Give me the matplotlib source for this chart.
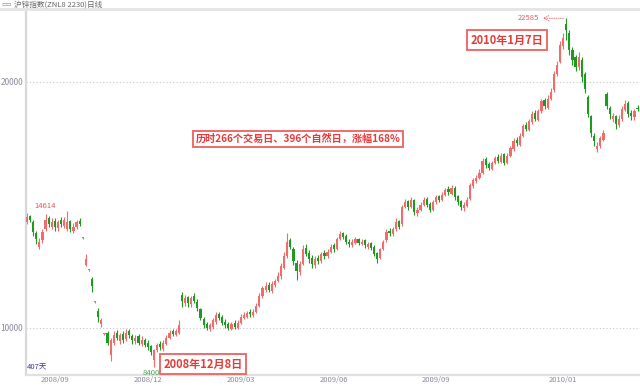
import numpy as np
import matplotlib
matplotlib.use('Agg')
import matplotlib.pyplot as plt
from matplotlib.lines import Line2D

plt.rcParams['font.family'] = ['Noto Sans CJK SC', 'DejaVu Sans']

# OHLC, one candle per two trading days (Aug 2008 .. Mar 2010)
opens = [14300, 14550, 14300, 13850, 13300, 13550, 14000, 14450, 14100, 14350,
         14050, 14400, 14150, 14000, 14350, 13950, 14100, 14350, 13650, 12550,
         12350, 12000, 11050, 10700, 10150, 9750, 9800, 8900, 9400, 9800,
         9450, 9750, 9550, 9850, 9650, 9450, 9650, 9350, 9500, 9400,
         9250, 8700, 9100, 9350, 9150, 9350, 9600, 9850, 9700, 9800,
         11350, 11000, 11250, 10950, 11300, 11050, 10750, 10350, 10150, 9950,
         10050, 10250, 10550, 10450, 10250, 10150, 9950, 10200, 10000, 10200,
         10400, 10450, 10650, 10500, 10650, 10900, 11300, 11550, 11750, 11500,
         11750, 11900, 12100, 12450, 12900, 13550, 13200, 12650, 12250, 12600,
         13250, 13050, 12850, 12550, 12850, 12700, 13050, 12900, 13100, 13350,
         13200, 13600, 13850, 13750, 13500, 13350, 13450, 13600, 13400, 13550,
         13300, 13450, 13300, 13050, 12850, 13200, 13550, 13950, 13800, 14000,
         14350, 14200, 14900, 15150, 14900, 15200, 14650, 14800, 15000, 15250,
         15050, 14800, 15100, 15350, 15200, 15400, 15650, 15450, 15700, 15350,
         15150, 14850, 14950, 15250, 15750, 15950, 16100, 16300, 16850, 16650,
         16450, 16700, 16950, 16750, 17050, 16700, 17000, 17250, 17650, 17450,
         17800, 18250, 18050, 18350, 18750, 18450, 18800, 19250, 18950, 19300,
         19650, 20300, 20800, 21450, 22350, 22000, 21300, 21000, 20600, 20900,
         20300, 19400, 18600, 17800, 17250, 17400, 17650, 19500, 18950, 18500,
         18600, 18250, 18500, 18850, 19150, 18750, 18550, 18950]
closes = [14500, 14400, 13900, 13600, 13500, 13900, 14400, 14200, 14300, 14100,
          14300, 14200, 14400, 14300, 14000, 14100, 14300, 14200, 13650, 12800,
          12350, 11700, 11050, 10450, 10300, 9750, 9400, 9500, 9700, 9600,
          9700, 9500, 9800, 9700, 9500, 9600, 9400, 9500, 9300, 9200,
          9000, 9100, 9300, 9200, 9400, 9600, 9800, 9750, 9850, 10100,
          11100, 11200, 11000, 11200, 11100, 10800, 10400, 10100, 10000, 10100,
          10300, 10500, 10400, 10200, 10100, 10000, 10150, 10050, 10200, 10450,
          10500, 10600, 10550, 10650, 10900, 11300, 11600, 11700, 11550, 11800,
          11900, 12100, 12500, 12900, 13500, 13300, 12700, 12300, 12600, 13200,
          13000, 12800, 12600, 12800, 12700, 13000, 12900, 13100, 13300, 13200,
          13600, 13800, 13700, 13500, 13400, 13500, 13600, 13450, 13500, 13350,
          13400, 13250, 13000, 12800, 13200, 13500, 13900, 13850, 14000, 14300,
          14100, 14900, 15100, 14900, 15200, 14700, 14800, 15000, 15200, 15000,
          14800, 15100, 15300, 15200, 15400, 15600, 15500, 15700, 15300, 15100,
          14900, 15000, 15200, 15800, 16000, 16100, 16300, 16800, 16600, 16500,
          16700, 16900, 16800, 17000, 16700, 17000, 17300, 17600, 17500, 17800,
          18200, 18100, 18400, 18700, 18500, 18800, 19200, 19000, 19300, 19600,
          20300, 20700, 21500, 21800, 22100, 21300, 20900, 20600, 21000, 20200,
          19700, 18700, 17900, 17600, 17400, 17700, 17900, 19000, 18700, 18600,
          18300, 18500, 18900, 19100, 18700, 18600, 18800, 18900]
highs = [14650, 14600, 14400, 13950, 13650, 14000, 14614, 14550, 14450, 14450,
         14400, 14500, 14500, 14750, 14400, 14250, 14400, 14450, 13700, 13000,
         12400, 12050, 11100, 10800, 10400, 9800, 9850, 9600, 9850, 9900,
         9800, 9850, 9950, 9950, 9750, 9700, 9750, 9650, 9600, 9500,
         9300, 9150, 9400, 9450, 9500, 9700, 9900, 9950, 9950, 10300,
         11450, 11350, 11300, 11300, 11400, 11150, 10800, 10450, 10250, 10200,
         10400, 10650, 10650, 10500, 10350, 10250, 10250, 10300, 10300, 10550,
         10650, 10700, 10750, 10750, 11000, 11400, 11700, 11850, 11850, 11900,
         12000, 12250, 12650, 13100, 13850, 13650, 13300, 12750, 12700, 13350,
         13400, 13150, 12950, 12900, 12950, 13100, 13150, 13200, 13400, 13450,
         13700, 13950, 13900, 13800, 13600, 13600, 13700, 13650, 13600, 13600,
         13500, 13500, 13350, 13100, 13250, 13550, 14000, 14050, 14100, 14450,
         14400, 15000, 15250, 15200, 15300, 15250, 14900, 15100, 15300, 15300,
         15100, 15200, 15400, 15400, 15500, 15700, 15750, 15800, 15750, 15400,
         15200, 15100, 15300, 15900, 16100, 16200, 16450, 16900, 16950, 16750,
         16800, 17000, 17050, 17100, 17100, 17100, 17400, 17700, 17750, 17900,
         18300, 18350, 18500, 18800, 18850, 18900, 19300, 19350, 19450, 19750,
         20450, 20850, 21650, 22000, 22585, 22100, 21400, 21100, 21200, 21000,
         20400, 19450, 18650, 17900, 17550, 17800, 18050, 19600, 19000, 18750,
         18650, 18650, 19000, 19250, 19200, 18850, 18900, 19050]
lows = [14200, 14300, 13750, 13400, 13200, 13450, 13950, 14100, 14000, 13950,
        13950, 14100, 14050, 13950, 13900, 13850, 14000, 14150, 13620, 12500,
        12320, 11450, 11020, 10250, 10050, 9720, 9300, 8650, 9300, 9500,
        9350, 9400, 9450, 9600, 9350, 9350, 9300, 9250, 9200, 9100,
        8900, 8400, 9000, 9100, 9050, 9300, 9550, 9650, 9650, 9750,
        10850, 10900, 10850, 10850, 11000, 10700, 10300, 10000, 9900, 9850,
        9950, 10150, 10300, 10100, 10000, 9900, 9900, 9950, 9950, 10150,
        10350, 10400, 10450, 10450, 10600, 10850, 11200, 11450, 11450, 11400,
        11650, 11850, 12000, 12400, 12850, 13200, 12550, 11950, 12150, 12550,
        12900, 12650, 12450, 12450, 12600, 12650, 12800, 12850, 13050, 13100,
        13150, 13550, 13600, 13400, 13300, 13300, 13400, 13350, 13350, 13250,
        13200, 13150, 12900, 12650, 12800, 13150, 13500, 13750, 13750, 13950,
        14000, 14150, 14850, 14800, 14850, 14600, 14550, 14750, 14950, 14900,
        14700, 14750, 15050, 15100, 15150, 15350, 15400, 15400, 15200, 15000,
        14800, 14750, 14900, 15200, 15700, 15900, 16050, 16250, 16500, 16400,
        16400, 16650, 16700, 16700, 16600, 16650, 16950, 17200, 17400, 17400,
        17750, 18000, 18000, 18300, 18400, 18400, 18750, 18900, 18900, 19250,
        19600, 20250, 20750, 21350, 21700, 21100, 20700, 20450, 20500, 20000,
        19550, 18550, 17750, 17400, 17150, 17300, 17600, 18900, 18500, 18350,
        18100, 18150, 18400, 18800, 18550, 18450, 18450, 18800]

tick_idx = [9, 39, 69, 99, 132, 173]
tick_labels = ['2008/09', '2008/12', '2009/03', '2009/06', '2009/09', '2010/01']

o = np.array(opens); c = np.array(closes)
h = np.array(highs); l = np.array(lows)
x = np.arange(len(o))
up = c >= o

RED = '#f26b6b'
GREEN = '#1e9a22'

fig = plt.figure(figsize=(6.4, 3.86), dpi=100)
ax = fig.add_axes([26/640, 11/386, 614/640, 366/386])

cols = np.where(up, RED, GREEN)
ax.vlines(x, l, h, colors=cols, linewidth=0.8, zorder=2)
body = np.maximum(np.abs(c - o), 40)
ax.bar(x, body, bottom=np.minimum(o, c), width=0.7, color=cols,
       linewidth=0, zorder=3)

ax.set_xlim(-0.3, 197.8)
ax.set_ylim(8080, 22960)

ax.set_yticks([10000, 20000])
ax.set_yticklabels(['10000', '20000'])
ax.yaxis.grid(True, linestyle=(0, (1, 2)), color='#c8c8c8', linewidth=0.8)
ax.set_xticks(tick_idx)
ax.set_xticklabels(tick_labels)
ax.tick_params(axis='y', length=0, labelsize=6, labelcolor='#8a8a9a', pad=2)
ax.tick_params(axis='x', length=0, labelsize=5.5, labelcolor='#8a8a9a', pad=0.5)

for s in ['top', 'right']:
    ax.spines[s].set_visible(False)
ax.spines['left'].set_color('#d8d8d8')
ax.spines['left'].set_linewidth(1.6)
ax.spines['bottom'].set_color('#e0e0e0')
ax.spines['bottom'].set_linewidth(1.6)

# top bar line
fig.add_artist(Line2D([0, 1], [1 - 9/386, 1 - 9/386], color='#e4e4e4', lw=2))
fig.text(14/640, 1 - 5/386, '沪锌指数(ZNL8 2230)日线', fontsize=5.5,
         color='#666666', va='center', ha='left')
fig.text(2/640, 1 - 5/386, '▭▭', fontsize=4, color='#888888', va='center')

# high / low marks
i_hi0 = 6
ax.annotate(str(highs[i_hi0]), xy=(x[i_hi0], h[i_hi0]), xytext=(0, 3),
            textcoords='offset points', ha='center', va='bottom',
            fontsize=5.5, color='#e85858')
i_pk = int(np.argmax(h))
ax.annotate('', xy=(x[i_pk] - 8.5, h[i_pk]), xytext=(x[i_pk], h[i_pk]),
            arrowprops=dict(arrowstyle='->', color='#e85858', lw=0.6,
                            linestyle=':'))
ax.text(x[i_pk] - 8.8, h[i_pk], str(highs[i_pk]), ha='right', va='center',
        fontsize=5.5, color='#e85858')
i_lo = int(np.argmin(l))
ax.annotate(str(lows[i_lo]), xy=(x[i_lo], l[i_lo]), xytext=(-2, -1),
            textcoords='offset points', ha='center', va='top',
            fontsize=5.5, color='#4aa84a')
ax.text(0.002, 0.01, '407天', transform=ax.transAxes, fontsize=5.5,
        color='#3c3c9c', ha='left', va='bottom')

box = dict(boxstyle='square,pad=0.3', fc='white', ec='#f06a6a', lw=1.4)
fig.text(507/640, 1 - 40/386, '2010年1月7日', fontsize=8, fontweight='bold',
         color='#e63a3a', ha='center', va='center', bbox=box)
fig.text(298/640, 1 - 139/386, '历时266个交易日、396个自然日，涨幅168%',
         fontsize=7.3, fontweight='bold', color='#e63a3a', ha='center',
         va='center', bbox=box)
fig.text(203/640, 1 - 364/386, '2008年12月8日', fontsize=8, fontweight='bold',
         color='#e63a3a', ha='center', va='center', bbox=box)

fig.savefig('out.png', dpi=100)
